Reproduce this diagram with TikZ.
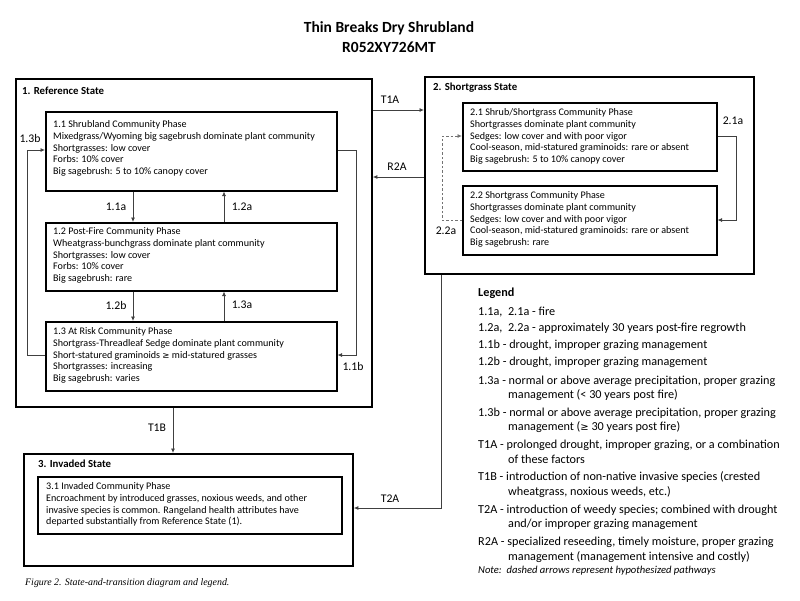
\documentclass[tikz,border=0pt]{standalone}
\usepackage{fontspec}
\setmainfont{Carlito}
\newfontfamily\capfont{Liberation Serif}
\usetikzlibrary{arrows.meta}
\tikzset{
  statebox/.style={draw, line width=1.8pt, inner sep=0pt, anchor=north west},
  phasebox/.style={draw, line width=1.5pt, inner sep=0pt, anchor=north west},
  phasetext/.style={inner sep=0pt, anchor=north west, align=left, font=\fontsize{10.1}{11.7}\selectfont},
  statelabel/.style={inner sep=0pt, anchor=west, font=\fontsize{10.8}{12}\selectfont\bfseries},
  conn/.style={draw=black!75, line width=0.8pt, -{Latex[length=4.5pt,width=4pt]}},
  hconn/.style={conn, dashed, dash pattern=on 2.5pt off 2pt, draw=black!55},
  clabel/.style={inner sep=0pt, font=\fontsize{11.7}{13}\selectfont},
  legtext/.style={inner sep=0pt, anchor=west, font=\fontsize{12.2}{14}\selectfont},
}
\begin{document}
\begin{tikzpicture}[x=1pt,y=-1pt]
\useasboundingbox[fill=white] (0,0) rectangle (800,600);
% title
\node[inner sep=0pt, font=\fontsize{15.5}{17}\selectfont\bfseries] (title1) at (389,28) {Thin Breaks Dry Shrubland};
\node[inner sep=0pt, font=\fontsize{15.5}{17}\selectfont\bfseries] (title2) at (389,47) {R052XY726MT};

% reference state
\node[statebox, minimum width=356pt, minimum height=328pt] (ref) at (15,78) {};
\node[statelabel] (refl) at (22,91) {1. Reference State};
\node[phasebox, minimum width=291pt, minimum height=79pt] (p11) at (45,111) {};
\node[phasetext] (t11) at (53,120.5) {1.1 Shrubland Community Phase\\Mixedgrass/Wyoming big sagebrush dominate plant community\\Shortgrasses: low cover\\Forbs: 10\% cover\\Big sagebrush: 5 to 10\% canopy cover};
\node[phasebox, minimum width=291pt, minimum height=68pt] (p12) at (45,222) {};
\node[phasetext] (t12) at (53,227.5) {1.2 Post-Fire Community Phase\\Wheatgrass-bunchgrass dominate plant community\\Shortgrasses: low cover\\Forbs: 10\% cover\\Big sagebrush: rare};
\node[phasebox, minimum width=291pt, minimum height=69pt] (p13) at (45,321) {};
\node[phasetext] (t13) at (53,327.5) {1.3 At Risk Community Phase\\Shortgrass-Threadleaf Sedge dominate plant community\\Short-statured graminoids {\fontspec{DejaVu Sans}\fontsize{8.6}{10}\selectfont ≥} mid-statured grasses\\Shortgrasses: increasing\\Big sagebrush: varies};

% shortgrass state
\node[statebox, minimum width=329pt, minimum height=197pt] (sg) at (424,76) {};
\node[statelabel] (sgl) at (433,88) {2. Shortgrass State};
\node[phasebox, minimum width=254pt, minimum height=68pt] (p21) at (462,102) {};
\node[phasetext] (t21) at (470,108.5) {2.1 Shrub/Shortgrass Community Phase\\Shortgrasses dominate plant community\\Sedges: low cover and with poor vigor\\Cool-season, mid-statured graminoids: rare or absent\\Big sagebrush: 5 to 10\% canopy cover};
\node[phasebox, minimum width=254pt, minimum height=69pt] (p22) at (462,185) {};
\node[phasetext] (t22) at (470,191.5) {2.2 Shortgrass Community Phase\\Shortgrasses dominate plant community\\Sedges: low cover and with poor vigor\\Cool-season, mid-statured graminoids: rare or absent\\Big sagebrush: rare};

% invaded state
\node[statebox, minimum width=329pt, minimum height=112pt] (inv) at (23,453) {};
\node[statelabel] (invl) at (38,464) {3. Invaded State};
\node[phasebox, minimum width=304pt, minimum height=57pt] (p31) at (37,476) {};
\node[phasetext] (t31) at (46,482.5) {3.1 Invaded Community Phase\\Encroachment by introduced grasses, noxious weeds, and other\\invasive species is common. Rangeland health attributes have\\departed substantially from Reference State (1).};

% connectors within reference state
\draw[conn] ([xshift=88pt]p11.south west) -- ([xshift=88pt]p12.north west);
\draw[conn] ([xshift=179pt]p12.north west) -- ([xshift=179pt]p11.south west);
\draw[conn] ([xshift=88pt]p12.south west) -- ([xshift=88pt]p13.north west);
\draw[conn] ([xshift=179pt]p13.north west) -- ([xshift=179pt]p12.south west);
\draw[conn] (p13.west |- 0,355) -- (27,355) -- (27,150) -- (p11.west |- 0,150);
\draw[conn] (p11.east |- 0,150) -- (356,150) -- (356,355) -- (p13.east |- 0,355);
\node[clabel] (l11a) at (116,207) {1.1a};
\node[clabel] (l12a) at (242,207) {1.2a};
\node[clabel] (l12b) at (116,305) {1.2b};
\node[clabel] (l13a) at (242,305) {1.3a};
\node[clabel] (l13b) at (30,138) {1.3b};
\node[clabel] (l11b) at (353,366) {1.1b};

% between states
\draw[conn] (ref.east |- 0,110) -- (sg.west |- 0,110);
\draw[conn] (sg.west |- 0,177) -- (ref.east |- 0,177);
\node[clabel] (lt1a) at (390,100) {T1A};
\node[clabel] (lr2a) at (397,167) {R2A};
\draw[conn] (ref.south -| 173,0) -- (inv.north -| 173,0);
\node[clabel] (lt1b) at (157,428) {T1B};
\draw[conn] (sg.south -| 441,0) -- (441,508) -- (inv.east |- 0,508);
\node[clabel] (lt2a) at (390,499) {T2A};

% within shortgrass
\draw[conn] (p21.east |- 0,136) -- (736,136) -- (736,220) -- (p22.east |- 0,220);
\draw[hconn] (p22.west |- 0,220) -- (442,220) -- (442,136) -- (p21.west |- 0,136);
\node[clabel] (l21a) at (733,121) {2.1a};
\node[clabel] (l22a) at (446,231) {2.2a};

% legend
\node[legtext, font=\fontsize{12.2}{14}\selectfont\bfseries] (leg) at (478,293) {Legend};
\node[legtext] (g1) at (478,312) {1.1a,\ \ 2.1a - fire};
\node[legtext] (g2) at (478,328.5) {1.2a,\ \ 2.2a - approximately 30 years post-fire regrowth};
\node[legtext] (g3) at (478,345) {1.1b - drought, improper grazing management};
\node[legtext] (g4) at (478,362) {1.2b - drought, improper grazing management};
\node[legtext] (g5) at (478,381.5) {1.3a - normal or above average precipitation, proper grazing};
\node[legtext] (g5b) at (508,395.5) {management (< 30 years post fire)};
\node[legtext] (g6) at (478,413) {1.3b - normal or above average precipitation, proper grazing};
\node[legtext] (g6b) at (508,427) {management ({\fontspec{DejaVu Sans}\fontsize{10}{12}\selectfont ≥} 30 years post fire)};
\node[legtext] (g7) at (478,445) {T1A - prolonged drought, improper grazing, or a combination};
\node[legtext] (g7b) at (508,459.5) {of these factors};
\node[legtext] (g8) at (478,477.5) {T1B - introduction of non-native invasive species (crested};
\node[legtext] (g8b) at (508,492) {wheatgrass, noxious weeds, etc.)};
\node[legtext] (g9) at (478,510) {T2A - introduction of weedy species; combined with drought};
\node[legtext] (g9b) at (508,524.5) {and/or improper grazing management};
\node[legtext] (g10) at (478,542.5) {R2A - specialized reseeding, timely moisture, proper grazing};
\node[legtext] (g10b) at (508,557) {management (management intensive and costly)};
\node[legtext, font=\fontsize{10.6}{12}\selectfont\itshape] (note) at (478,571) {Note:\ \ dashed arrows represent hypothesized pathways};

% caption
\node[inner sep=0pt, anchor=west, font=\capfont\fontsize{9.9}{11}\selectfont\itshape] (cap) at (25,583) {Figure 2. State-and-transition diagram and legend.};
\end{tikzpicture}
\end{document}
